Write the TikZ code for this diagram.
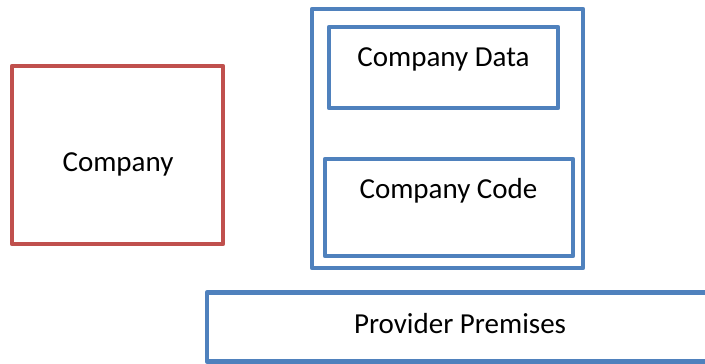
\documentclass[tikz,border=0pt]{standalone}
\usepackage{fontspec}
\setmainfont{Carlito}
\definecolor{boxblue}{HTML}{4F81BD}
\definecolor{boxred}{HTML}{C0504D}
\tikzset{
  frame/.style={draw, line width=4.5pt, line join=round, inner sep=0pt, outer sep=0pt},
  bluebox/.style={frame, draw=boxblue},
  redbox/.style={frame, draw=boxred},
  caption/.style={anchor=base, inner sep=0pt, font=\fontsize{29}{34}\selectfont, text=black}
}
\begin{document}
\begin{tikzpicture}[x=1pt, y=-1pt]
  \useasboundingbox (0,0) rectangle (705,364);
  \clip (0,0) rectangle (705,364);
  \fill[white] (0,0) rectangle (705,364);

  % client side
  \node[redbox, minimum width=211pt, minimum height=178pt] (company) at (117.5,155) {};
  \node[caption] (companyText) at (118,171.5) {Company};

  % hosted environment and its contents
  \node[bluebox, minimum width=271pt, minimum height=259pt] (hosted) at (447.5,138.5) {};
  \node[bluebox, minimum width=229pt, minimum height=81pt] (data) at (443.5,67.5) {};
  \node[caption] (dataText) at (443.5,66.5) {Company Data};
  \node[bluebox, minimum width=248pt, minimum height=97pt] (code) at (449,207.5) {};
  \node[caption] (codeText) at (448.5,198) {Company Code};

  % provider premises, running past the right edge
  \node[bluebox, minimum width=518pt, minimum height=69pt] (premises) at (466,327) {};
  \node[caption] (premisesText) at (460,333) {Provider Premises};
\end{tikzpicture}
\end{document}
